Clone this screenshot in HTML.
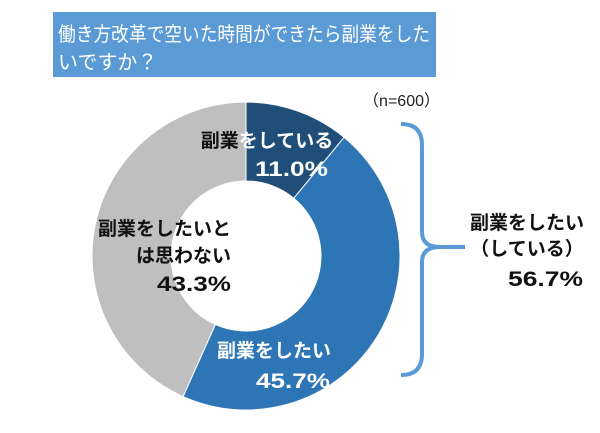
<!DOCTYPE html>
<html><head><meta charset="utf-8"><style>
body{margin:0;background:#fff;}
svg{display:block;font-family:"Liberation Sans","Noto Sans CJK JP",sans-serif;}
.l{font-size:19px;font-weight:bold;}
.p{font-size:21px;font-weight:bold;}
</style></head><body>
<svg width="600" height="433">
<rect x="53" y="12" width="383" height="65" fill="#5b9bd5"/>
<text x="58" y="41" fill="#fff" font-size="20" textLength="372" lengthAdjust="spacingAndGlyphs">働き方改革で空いた時間ができたら副業をした</text>
<text x="58" y="69" fill="#fff" font-size="20">いですか？</text>
<text x="440" y="106" font-size="16" text-anchor="end" fill="#222">（n=600）</text>
<g id="slices"></g>
<g>
<text class="l" x="267" y="147" text-anchor="middle"><tspan fill="#111">副業</tspan><tspan fill="#fff">をしている</tspan></text>
<text class="p" x="255" y="176" textLength="73" lengthAdjust="spacingAndGlyphs" fill="#fff">11.0%</text>
<text class="l" x="231" y="235" text-anchor="end" fill="#111">副業をしたいと</text>
<text class="l" x="231" y="262" text-anchor="end" fill="#111">は思わない</text>
<text class="p" x="157" y="291" textLength="74" lengthAdjust="spacingAndGlyphs" fill="#111">43.3%</text>
<text class="l" x="331" y="357" text-anchor="end" fill="#fff">副業をしたい</text>
<text class="p" x="256" y="388" textLength="74" lengthAdjust="spacingAndGlyphs" fill="#fff">45.7%</text>
</g>
<path d="M401,124 Q422,124 422,145 L422,232 Q422,247 440,247 L465,247 L440,247 Q422,247 422,262 L422,354 Q422,375 401,375" fill="none" stroke="#5b9bd5" stroke-width="4"/>
<g>
<text class="l" x="527" y="229" text-anchor="middle" fill="#111">副業をしたい</text>
<text class="l" x="527" y="255" text-anchor="middle" fill="#111">（している）</text>
<text class="p" x="508" y="286" textLength="75" lengthAdjust="spacingAndGlyphs" fill="#111">56.7%</text>
</g>
</svg>
<script>
const categories=["副業をしている","副業をしたい","副業をしたいとは思わない"];
const values=[11.0,45.7,43.3];
const colors=["#1f4e79","#2e75b6","#bfbfbf"];
const cx=246,cy=256,R=154,r=75;
const g=document.getElementById('slices');
const total=values.reduce((a,b)=>a+b,0);
let a0=0;
function pt(rad,a){return [cx+rad*Math.sin(a),cy-rad*Math.cos(a)];}
values.forEach((v,i)=>{
 const a1=a0+v/total*2*Math.PI;
 const big=(a1-a0)>Math.PI?1:0;
 const p1=pt(R,a0),p2=pt(R,a1),p3=pt(r,a1),p4=pt(r,a0);
 const p=document.createElementNS('http://www.w3.org/2000/svg','path');
 p.setAttribute('d',`M${p1} A${R},${R} 0 ${big} 1 ${p2} L${p3} A${r},${r} 0 ${big} 0 ${p4} Z`);
 p.setAttribute('fill',colors[i]);
 p.setAttribute('stroke','#fff');
 p.setAttribute('stroke-width','1');
 
 
 g.appendChild(p);
 a0=a1;
});
</script>
</body></html>
